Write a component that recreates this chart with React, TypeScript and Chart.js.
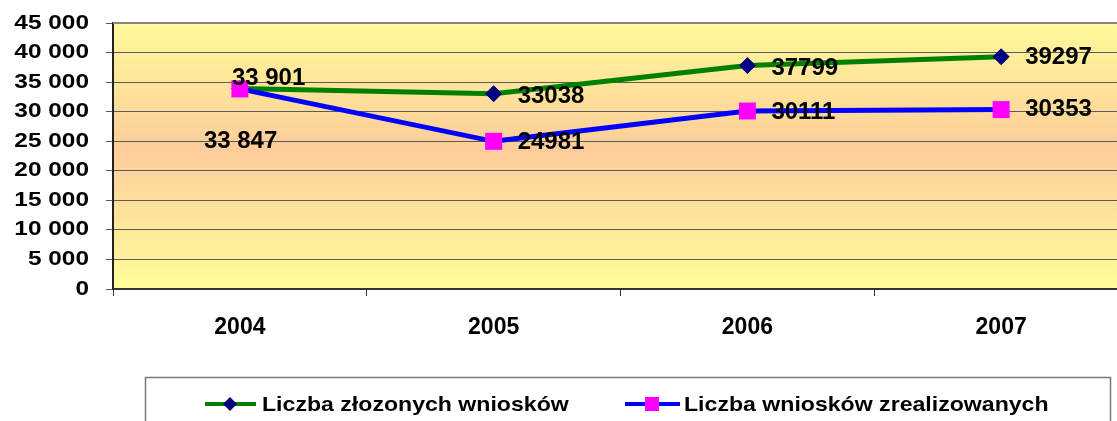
import React, { useEffect, useRef } from "react";
import { Chart, registerables } from "chart.js";

Chart.register(...registerables);

const years = ["2004", "2005", "2006", "2007"];
const submitted = [33901, 33038, 37799, 39297];
const realized = [33847, 24981, 30111, 30353];
const submittedLabels = ["33 901", "33038", "37799", "39297"];
const realizedLabels = ["33 847", "24981", "30111", "30353"];
const seriesNames = ["Liczba złozonych wniosków", "Liczba wniosków zrealizowanych"];

const FONT = "'Liberation Sans', Arial, sans-serif";

// label offsets (styling, relative to each point)
const submittedOffsets = [[-8, -10], [24, 3], [24, 3], [24, 1]];
const realizedOffsets = [[-36, 52], [24, 1], [24, 1], [24, 0]];

function fmt(v: number): string {
  if (v >= 1000) {
    const t = Math.floor(v / 1000);
    const r = String(v % 1000).padStart(3, "0");
    return `${t} ${r}`;
  }
  return String(v);
}

const Y_STRETCH = 1.22;
const LEGEND_STRETCH = 1.1;
const Y_TICK_LEN = 7;
const Y_PAD = 8;
const Y_EXTRA_SHIFT = 9;

const bgPlugin = {
  id: "bgPlugin",
  afterLayout(chart: any) {
    const s = chart.scales.y;
    if (s && !s._stretched) {
      s._stretched = true;
      const orig = s.drawLabels.bind(s);
      s.drawLabels = function (area: any) {
        const ctx = this.ctx;
        const anchor = this.right - Y_TICK_LEN - Y_PAD;
        ctx.save();
        ctx.translate(anchor - Y_EXTRA_SHIFT, 0);
        ctx.scale(Y_STRETCH, 1);
        ctx.translate(-anchor, 0);
        orig(area);
        ctx.restore();
      };
    }
  },
  beforeDraw(chart: any) {
    const { ctx, chartArea, width, height } = chart;
    ctx.save();
    ctx.fillStyle = "#ffffff";
    ctx.fillRect(0, 0, width, height);
    const g = ctx.createLinearGradient(0, chartArea.top, 0, chartArea.bottom);
    g.addColorStop(0, "#FFFA9A");
    g.addColorStop(0.48, "#FDCC9A");
    g.addColorStop(1, "#FFFE9A");
    ctx.fillStyle = g;
    ctx.fillRect(chartArea.left, chartArea.top, chartArea.right - chartArea.left, chartArea.bottom - chartArea.top);
    ctx.restore();
  },
};

const labelPlugin = {
  id: "labelPlugin",
  afterDatasetsDraw(chart: any) {
    const { ctx } = chart;
    ctx.save();
    ctx.font = `bold 24px ${FONT}`;
    ctx.fillStyle = "#000000";
    ctx.textAlign = "left";
    ctx.textBaseline = "middle";
    const sets = [
      { idx: 0, labels: submittedLabels, offs: submittedOffsets },
      { idx: 1, labels: realizedLabels, offs: realizedOffsets },
    ];
    sets.forEach((s) => {
      const meta = chart.getDatasetMeta(s.idx);
      meta.data.forEach((pt: any, i: number) => {
        ctx.fillText(s.labels[i], pt.x + s.offs[i][0], pt.y + s.offs[i][1]);
      });
    });
    ctx.restore();
  },
  afterDraw(chart: any) {
    const { ctx, chartArea } = chart;
    ctx.save();
    // top border of plot area
    ctx.strokeStyle = "#858585";
    ctx.lineWidth = 2;
    ctx.beginPath();
    ctx.moveTo(chartArea.left, chartArea.top);
    ctx.lineTo(chartArea.right, chartArea.top);
    ctx.stroke();

    // legend box
    ctx.strokeStyle = "#7a7a7a";
    ctx.lineWidth = 1.5;
    ctx.strokeRect(145.5, 377.5, 965, 80);

    const y = 404;
    // item 1
    ctx.strokeStyle = "#008000";
    ctx.lineWidth = 4;
    ctx.beginPath();
    ctx.moveTo(205, y);
    ctx.lineTo(256, y);
    ctx.stroke();
    ctx.fillStyle = "#000080";
    ctx.beginPath();
    ctx.moveTo(230, y - 7);
    ctx.lineTo(237, y);
    ctx.lineTo(230, y + 7);
    ctx.lineTo(223, y);
    ctx.closePath();
    ctx.fill();
    // item 2
    ctx.strokeStyle = "#0000FF";
    ctx.beginPath();
    ctx.moveTo(625, y);
    ctx.lineTo(680, y);
    ctx.stroke();
    ctx.fillStyle = "#FF00FF";
    ctx.fillRect(645, y - 7, 14, 14);

    ctx.fillStyle = "#000000";
    ctx.font = `bold 21px ${FONT}`;
    ctx.textAlign = "left";
    ctx.textBaseline = "middle";
    const drawStretched = (text: string, x: number) => {
      ctx.save();
      ctx.translate(x, 0);
      ctx.scale(LEGEND_STRETCH, 1);
      ctx.fillText(text, 0, y + 1);
      ctx.restore();
    };
    drawStretched(seriesNames[0], 262);
    drawStretched(seriesNames[1], 684);
    ctx.restore();
  },
};

export default function App() {
  const ref = useRef<HTMLCanvasElement>(null);
  useEffect(() => {
    if (!ref.current) return;
    const chart = new Chart(ref.current, {
      type: "line",
      data: {
        labels: years,
        datasets: [
          {
            label: seriesNames[0],
            data: submitted,
            borderColor: "#008000",
            borderWidth: 5,
            pointStyle: "rectRot",
            pointRadius: 8,
            pointBackgroundColor: "#000080",
            pointBorderColor: "#000080",
            pointBorderWidth: 1,
            tension: 0,
            order: 1,
          },
          {
            label: seriesNames[1],
            data: realized,
            borderColor: "#0000FF",
            borderWidth: 5,
            pointStyle: "rect",
            pointRadius: 12,
            pointBackgroundColor: "#FF00FF",
            pointBorderColor: "#FF00FF",
            pointBorderWidth: 0,
            tension: 0,
            order: 0,
          },
        ],
      },
      options: {
        responsive: false,
        animation: false,
        devicePixelRatio: 1,
        layout: { padding: { top: 23, right: 11, left: 0, bottom: 0 } },
        plugins: {
          legend: { display: false },
          tooltip: { enabled: false },
        },
        scales: {
          x: {
            type: "category",
            offset: true,
            grid: {
              offset: true,
              drawOnChartArea: false,
              drawTicks: true,
              tickLength: 7,
              color: "#333333",
            },
            border: { color: "#333333", width: 2 },
            ticks: {
              color: "#000000",
              font: { family: FONT, size: 23, weight: "bold" },
              padding: 18,
              maxRotation: 0,
            },
            afterFit(scale: any) {
              scale.height = 132;
            },
          },
          y: {
            min: 0,
            max: 45000,
            ticks: {
              stepSize: 5000,
              color: "#000000",
              font: { family: FONT, size: 20, weight: "bold" },
              padding: Y_PAD,
              callback: (v: any) => fmt(Number(v)),
            },
            grid: {
              color: "#5a5a5a",
              lineWidth: 1,
              tickLength: Y_TICK_LEN,
            },
            border: { color: "#222222", width: 2 },
            afterFit(scale: any) {
              scale.width = 113;
            },
          },
        },
      },
      plugins: [bgPlugin, labelPlugin],
    });
    return () => chart.destroy();
  }, []);
  return (
    <div style={{ position: "fixed", left: 0, top: 0, width: 1117, height: 421, overflow: "hidden", background: "#fff" }}>
      <canvas ref={ref} width={1140} height={421} style={{ width: 1140, height: 421, display: "block" }} />
    </div>
  );
}
